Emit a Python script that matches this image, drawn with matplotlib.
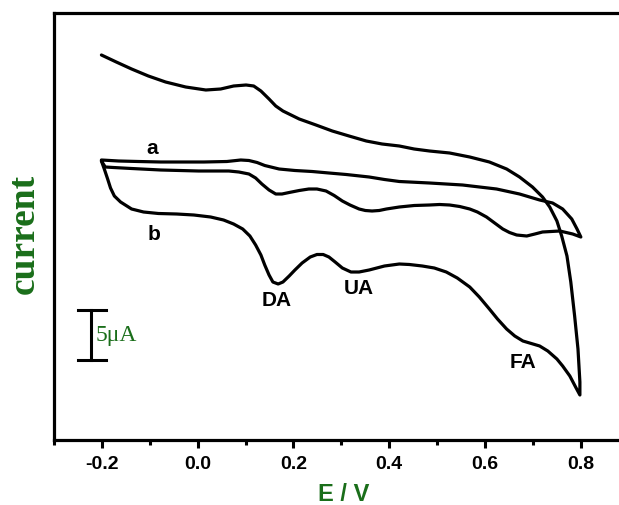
import matplotlib
matplotlib.use("Agg")
import matplotlib.pyplot as plt
from matplotlib.ticker import MultipleLocator, FormatStrFormatter

plt.rcParams['axes.unicode_minus'] = False

# Curve a: upper branch (left -> right) then lower branch (right -> left)
a_E = [-0.201, -0.165, -0.124, -0.077, -0.029, 0.013, 0.061, 0.090, 0.107, 0.124,
       0.140, 0.170, 0.203, 0.239, 0.274, 0.310, 0.358, 0.390, 0.421, 0.484,
       0.553, 0.624, 0.672, 0.714, 0.741, 0.762, 0.781, 0.792, 0.800,
       0.783, 0.756, 0.720, 0.704, 0.687, 0.666, 0.651, 0.637, 0.620, 0.603,
       0.584, 0.568, 0.547, 0.526, 0.505, 0.484, 0.452, 0.421, 0.394, 0.379,
       0.364, 0.350, 0.337, 0.318, 0.302, 0.285, 0.268, 0.249, 0.232, 0.212,
       0.191, 0.176, 0.163, 0.149, 0.134, 0.121, 0.107, 0.086, 0.065, 0.002,
       -0.077, -0.138, -0.176, -0.193, -0.201]
a_I = [28.0, 27.9, 27.85, 27.8, 27.8, 27.8, 27.85, 28.0, 27.95, 27.75,
       27.45, 27.1, 26.95, 26.85, 26.7, 26.55, 26.3, 26.05, 25.85, 25.7,
       25.5, 25.1, 24.6, 24.0, 23.7, 23.1, 22.1, 21.1, 20.3,
       20.6, 20.9, 20.8, 20.6, 20.4, 20.5, 20.75, 21.1, 21.7, 22.3,
       22.8, 23.1, 23.35, 23.5, 23.55, 23.5, 23.45, 23.3, 23.1, 22.95,
       22.9, 22.95, 23.1, 23.5, 23.9, 24.45, 24.9, 25.1, 25.1, 24.95,
       24.75, 24.6, 24.6, 25.0, 25.6, 26.2, 26.6, 26.8, 26.9, 26.9,
       27.0, 27.15, 27.25, 27.3, 27.9]

# Curve b: upper branch then lower branch carrying the DA, UA and FA peaks
b_E = [-0.201, -0.170, -0.138, -0.103, -0.067, -0.025, 0.017, 0.048, 0.075, 0.101,
       0.117, 0.132, 0.149, 0.163, 0.178, 0.195, 0.212, 0.247, 0.281, 0.316,
       0.352, 0.385, 0.421, 0.452, 0.484, 0.526, 0.568, 0.609, 0.645, 0.672,
       0.699, 0.720, 0.735, 0.750, 0.760, 0.771, 0.779, 0.787, 0.794, 0.798,
       0.798,
       0.789, 0.777, 0.762, 0.750, 0.731, 0.714, 0.693, 0.679, 0.662, 0.645,
       0.626, 0.609, 0.588, 0.568, 0.542, 0.519, 0.494, 0.469, 0.442, 0.421,
       0.390, 0.358, 0.337, 0.320, 0.302, 0.287, 0.274, 0.262, 0.249, 0.235,
       0.218, 0.203, 0.191, 0.178, 0.168, 0.157, 0.149, 0.140, 0.132, 0.121,
       0.109, 0.094, 0.075, 0.054, 0.027, -0.008, -0.044, -0.082, -0.113, -0.138,
       -0.161, -0.174, -0.182, -0.188, -0.195, -0.201]
b_I = [38.5, 37.8, 37.1, 36.4, 35.8, 35.3, 35.0, 35.1, 35.4, 35.5,
       35.4, 34.9, 34.1, 33.4, 32.9, 32.5, 32.1, 31.5, 30.9, 30.4,
       29.9, 29.6, 29.4, 29.1, 28.9, 28.7, 28.3, 27.8, 27.1, 26.3,
       25.3, 24.3, 23.3, 21.9, 20.4, 18.4, 15.8, 12.4, 9.1, 5.8,
       4.5,
       5.3, 6.4, 7.4, 8.1, 8.9, 9.4, 9.7, 9.9, 10.4, 11.1,
       12.1, 13.1, 14.3, 15.3, 16.2, 16.8, 17.2, 17.4, 17.55, 17.6,
       17.4, 17.0, 16.8, 16.8, 17.2, 17.8, 18.3, 18.55, 18.55, 18.3,
       17.7, 17.0, 16.4, 15.8, 15.6, 15.8, 16.5, 17.5, 18.5, 19.5,
       20.4, 21.1, 21.6, 22.0, 22.3, 22.5, 22.6, 22.65, 22.8, 23.1,
       23.8, 24.4, 25.2, 26.1, 27.1, 27.9]

curve_labels = ['a', 'b']
curve_label_pos = [(-0.096, 29.3), (-0.092, 20.6)]
peak_labels = ['DA', 'UA', 'FA']
peak_label_pos = [(0.165, 14.1), (0.337, 15.3), (0.679, 7.8)]

x_ticks = [-0.2, 0.0, 0.2, 0.4, 0.6, 0.8]
scale_value = 5.0          # µA
scale_bottom = 8.0
scale_E = -0.222

green = '#1a6e1a'
fig = plt.figure(figsize=(6.19, 5.06), dpi=100)
ax = fig.add_axes([54/619, 65/506, 574.75/619, 427/506])

for E, I in [(a_E, a_I), (b_E, b_I)]:
    ax.plot(E, I, color='black', lw=2.3, solid_joinstyle='round', solid_capstyle='round')

ax.set_xlim(-0.3, 0.9)
ax.set_ylim(0, 42.7)
ax.set_xticks(x_ticks)
ax.xaxis.set_major_formatter(FormatStrFormatter('%.1f'))
ax.xaxis.set_minor_locator(MultipleLocator(0.1))
ax.set_yticks([])
ax.tick_params(axis='x', which='major', length=6, width=2.2, direction='out', pad=5)
ax.tick_params(axis='x', which='minor', length=3.5, width=2.2, direction='out')
for lab in ax.get_xticklabels():
    lab.set_fontfamily('Liberation Sans')
    lab.set_fontweight('bold')
    lab.set_fontsize(14)
for s in ['left', 'bottom', 'top']:
    ax.spines[s].set_linewidth(2.3)
ax.spines['right'].set_visible(False)

for t, (x, y) in zip(curve_labels + peak_labels, curve_label_pos + peak_label_pos):
    ax.text(x, y, t, ha='center', va='center', fontsize=15, fontweight='bold',
            family='Liberation Sans')

# scale bar
ax.plot([scale_E, scale_E], [scale_bottom, scale_bottom + scale_value], color='black', lw=2.2)
for yy in [scale_bottom, scale_bottom + scale_value]:
    ax.plot([scale_E - 0.028, scale_E + 0.030], [yy, yy], color='black', lw=2.2)
ax.text(scale_E + 0.008, scale_bottom + scale_value / 2, '5\u03bcA', ha='left', va='center',
        fontsize=17, color=green, family='Liberation Serif')

fig.text(24/619, 1 - 234/506, 'current', rotation=90, ha='center', va='center',
         fontsize=27, fontweight='bold', color=green, family='Liberation Serif')
fig.text(344/619, 1 - 495/506, 'E / V', ha='center', va='center',
         fontsize=17, fontweight='bold', color=green, family='Liberation Sans')

fig.savefig('out.png', dpi=100)
